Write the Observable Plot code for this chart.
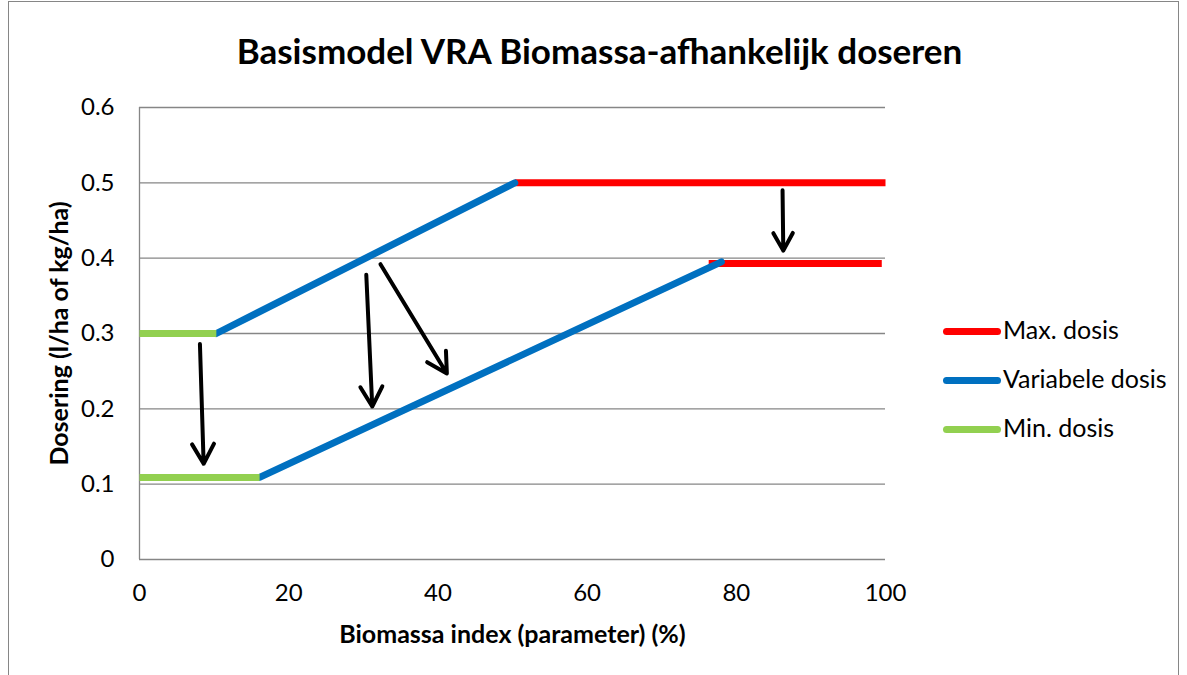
<!DOCTYPE html>
<html>
<head>
<meta charset="utf-8">
<script src="https://cdn.jsdelivr.net/npm/d3@7"></script>
<script src="https://cdn.jsdelivr.net/npm/@observablehq/plot@0.6"></script>
<style>
  html, body { margin: 0; padding: 0; background: #fff; overflow: hidden; }
  #wrap { position: relative; width: 1187px; height: 675px; font-family: Lato, "Open Sans", sans-serif; color: #000; }
  #border { position: absolute; left: 8px; top: 1px; width: 1171px; height: 720px; border: 1.5px solid #868686; box-sizing: border-box; }
  #chart { position: absolute; left: 0; top: 0; }
  #title { position: absolute; left: 6px; width: 1187px; top: 29px; text-align: center; font-weight: bold; font-size: 35px; white-space: nowrap; }
  #legend { position: absolute; left: 943px; top: 313px; }
  .item { position: relative; height: 49px; }
  .swatch { position: absolute; left: 0; top: 15px; width: 58px; height: 7px; border-radius: 4px; }
  .lab { position: absolute; left: 60px; top: 1px; font-size: 25px; white-space: nowrap; }
</style>
</head>
<body>
<div id="wrap">
  <div id="border"></div>
  <div id="chart"></div>
  <div id="title"></div>
  <div id="legend"></div>
</div>
<script>
// ---- data ----
const chartTitle = "Basismodel VRA Biomassa-afhankelijk doseren";
const xTitle = "Biomassa index (parameter) (%)";
const yTitle = "Dosering (l/ha of kg/ha)";
const xTicks = [0, 20, 40, 60, 80, 100];
const yTicks = [0, 0.1, 0.2, 0.3, 0.4, 0.5, 0.6];

const seriesNames = ["Max. dosis", "Variabele dosis", "Min. dosis"];
const seriesColors = ["#FF0000", "#0070C0", "#92D050"];

// Max. dosis segments
const maxX1 = [50.3, 76.3];
const maxY1 = [0.5, 0.393];
const maxX2 = [100, 99.5];
const maxY2 = [0.5, 0.393];
// Variabele dosis segments
const varX1 = [10.3, 16.1];
const varY1 = [0.3, 0.109];
const varX2 = [50.3, 78.0];
const varY2 = [0.5, 0.395];
// Min. dosis segments
const minX1 = [0, 0];
const minY1 = [0.3, 0.109];
const minX2 = [10.3, 16.1];
const minY2 = [0.3, 0.109];
// Arrows
const arrowX1 = [8.1, 30.4, 32.3, 86.2];
const arrowY1 = [0.286, 0.378, 0.392, 0.49];
const arrowX2 = [8.6, 31.2, 41.2, 86.3];
const arrowY2 = [0.127, 0.203, 0.247, 0.41];

const fmt = d => d === 0 ? "0" : d.toFixed(1);
const grid = "#868686";

const chart = Plot.plot({
  width: 1187,
  height: 675,
  marginLeft: 139,
  marginRight: 302,
  marginTop: 107,
  marginBottom: 116,
  style: { fontFamily: "Lato, 'Open Sans', sans-serif", fontSize: "24px", color: "#000", background: "transparent", overflow: "visible" },
  x: { domain: [0, 100], label: null },
  y: { domain: [0, 0.6], label: null },
  marks: [
    Plot.gridY(yTicks, { stroke: grid, strokeOpacity: 1, strokeWidth: 1.3 }),
    Plot.ruleX([0], { stroke: grid, strokeWidth: 1.3 }),
    Plot.axisY(yTicks, { tickSize: 0, tickPadding: 25, tickFormat: fmt, fontSize: 24, label: null }),
    Plot.axisX(xTicks, { tickSize: 0, tickPadding: 24, fontSize: 24, label: null }),
    Plot.link(maxX1, { x1: maxX1, y1: maxY1, x2: maxX2, y2: maxY2, stroke: seriesColors[0], strokeWidth: 7, strokeLinecap: "butt" }),
    Plot.link(varX1, { x1: varX1, y1: varY1, x2: varX2, y2: varY2, stroke: seriesColors[1], strokeWidth: 7, strokeLinecap: "round" }),
    Plot.link(minX1, { x1: minX1, y1: minY1, x2: minX2, y2: minY2, stroke: seriesColors[2], strokeWidth: 7, strokeLinecap: "butt" }),
    Plot.arrow(arrowX1, { x1: arrowX1, y1: arrowY1, x2: arrowX2, y2: arrowY2, stroke: "#000", strokeWidth: 4, headLength: 8.5, headAngle: 58 }),
    Plot.text([xTitle], { frameAnchor: "bottom", dy: 83, fontWeight: "bold", fontSize: 25 }),
    Plot.text([yTitle], { frameAnchor: "left", dx: -80, rotate: -90, textAnchor: "middle", fontWeight: "bold", fontSize: 25 })
  ]
});
document.getElementById("chart").appendChild(chart);

document.getElementById("title").textContent = chartTitle;

const legend = document.getElementById("legend");
seriesNames.forEach((name, i) => {
  const item = document.createElement("div");
  item.className = "item";
  const sw = document.createElement("div");
  sw.className = "swatch";
  sw.style.background = seriesColors[i];
  const lab = document.createElement("div");
  lab.className = "lab";
  lab.textContent = name;
  item.appendChild(sw);
  item.appendChild(lab);
  legend.appendChild(item);
});
</script>
</body>
</html>
